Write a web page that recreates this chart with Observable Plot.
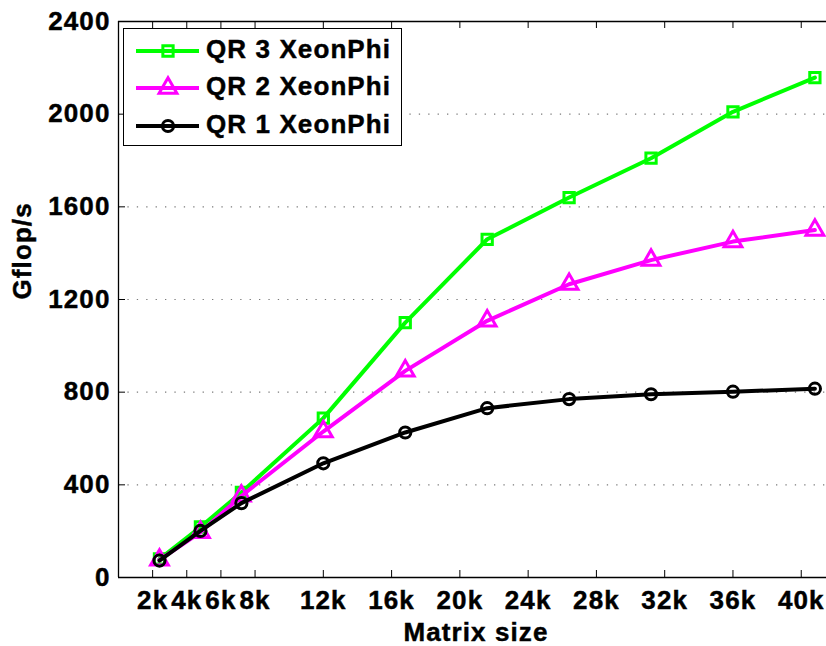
<!DOCTYPE html>
<html>
<head>
<meta charset="utf-8">
<script src="https://cdn.jsdelivr.net/npm/d3@7"></script>
<script src="https://cdn.jsdelivr.net/npm/@observablehq/plot@0.6"></script>
<style>
  body { margin: 0; background: #fff; }
  #wrap { position: relative; width: 826px; height: 646px; overflow: hidden; background: #fff; }
  #wrap svg text { stroke: #000; stroke-width: 0.45px; }
  #legend { position: absolute; left: 123px; top: 28px; width: 279px; height: 118px; border: 1.2px solid #000; background: #fff; box-sizing: border-box; }
  #legend .row { position: absolute; left: 0; width: 100%; height: 38px; }
  #legend svg { position: absolute; left: 0; top: 0; }
  #legend .lab { position: absolute; left: 82px; top: 0; line-height: 38px; font: bold 26px "Liberation Sans", Arial, Helvetica, sans-serif; letter-spacing: 1.1px; color: #000; white-space: nowrap; -webkit-text-stroke: 0.45px #000; }
</style>
</head>
<body>
<div id="wrap"></div>
<script>
// ---- data ----
const sizes = [2400, 4800, 7200, 12000, 16800, 21600, 26400, 31200, 36000, 40800];
const qr3 = [80, 218, 367, 688, 1100, 1460, 1640, 1810, 2010, 2158];
const qr2 = [76, 195, 352, 630, 892, 1108, 1266, 1370, 1450, 1500];
const qr1 = [73, 201, 321, 493, 626, 731, 770, 791, 802, 815];

const seriesNames = ["QR 3 XeonPhi", "QR 2 XeonPhi", "QR 1 XeonPhi"];
const seriesValues = [qr3, qr2, qr1];
const seriesColors = ["#00ff00", "#ff00ff", "#000000"];
const seriesSymbols = ["square", "triangle", "circle"];
const seriesR = [5.8, 6.6, 5.6];

const xTicks = [2000, 4000, 6000, 8000, 12000, 16000, 20000, 24000, 28000, 32000, 36000, 40000];
const xTickLabels = ["2k", "4k", "6k", "8k", "12k", "16k", "20k", "24k", "28k", "32k", "36k", "40k"];
const yTicks = [0, 400, 800, 1200, 1600, 2000, 2400];
const yTickLabels = ["0", "400", "800", "1200", "1600", "2000", "2400"];
const xLabel = "Matrix size";
const yLabel = "Gflop/s";

// ---- layout ----
const W = 826, H = 646;
const mL = 118, mR = 0, mT = 21, mB = 69;
const plotW = W - mL - mR, plotH = H - mT - mB;
const tickLen = 7;
const font = '"Liberation Sans", Arial, Helvetica, sans-serif';

const seriesData = seriesNames.map((name, k) =>
  sizes.map((s, i) => ({series: name, size: s, gflops: seriesValues[k][i]}))
);

const marks = [];
// dotted grid
marks.push(Plot.ruleY(yTicks.filter(v => v > 0 && v < 2400), {
  y: d => d, stroke: "#7a7a7a", strokeWidth: 1.2, strokeDasharray: "1.3,8.1"
}));
// series (green first, black last)
seriesData.forEach((data, k) => {
  marks.push(Plot.line(data, {x: "size", y: "gflops", stroke: seriesColors[k], strokeWidth: 4, strokeLinejoin: "round"}));
  marks.push(Plot.dot(data, {x: "size", y: "gflops", symbol: seriesSymbols[k], r: seriesR[k],
    stroke: seriesColors[k], strokeWidth: 3, fill: "none"}));
});
// box lines
marks.push(Plot.ruleX([0], {x: d => d, stroke: "#000", strokeWidth: 1.3}));
marks.push(Plot.ruleY([0, 2400], {y: d => d, stroke: "#000", strokeWidth: 1.3}));
// inward ticks
marks.push(Plot.tickX(xTicks, {x: d => d, insetTop: plotH - tickLen, stroke: "#000", strokeWidth: 1}));
marks.push(Plot.tickX(xTicks, {x: d => d, insetBottom: plotH - tickLen, stroke: "#000", strokeWidth: 1}));
marks.push(Plot.tickY(yTicks, {y: d => d, insetRight: plotW - tickLen, stroke: "#000", strokeWidth: 1}));
// tick labels
marks.push(Plot.axisX(xTicks, {tickSize: 0, tickPadding: 13, label: null,
  tickFormat: d => xTickLabels[xTicks.indexOf(d)], fontSize: 26, fontWeight: "bold", fill: "#000"}));
marks.push(Plot.axisY(yTicks, {tickSize: 0, tickPadding: 8, label: null,
  tickFormat: d => yTickLabels[yTicks.indexOf(d)], fontSize: 26, fontWeight: "bold", fill: "#000"}));
// axis titles
marks.push(Plot.text([xLabel], {text: d => d, frameAnchor: "bottom", lineAnchor: "top", dy: 45, dx: 3.5,
  fontSize: 26, fontWeight: "bold", fill: "#000"}));
marks.push(Plot.text([yLabel], {text: d => d, frameAnchor: "left", lineAnchor: "top", rotate: -90, dx: -106, dy: 0,
  fontSize: 26, fontWeight: "bold", fill: "#000"}));

const chart = Plot.plot({
  width: W, height: H,
  marginLeft: mL, marginRight: mR, marginTop: mT, marginBottom: mB,
  x: {domain: [0, 41480], axis: null},
  y: {domain: [0, 2400], axis: null},
  style: {fontFamily: font, fontWeight: "bold", fontSize: "26px", letterSpacing: "1.1px", background: "#fff", color: "#000", overflow: "visible"},
  marks
});
const wrap = document.getElementById("wrap");
wrap.appendChild(chart);

// ---- legend (inside plot area, like the original) ----
const legend = document.createElement("div");
legend.id = "legend";
const rowTops = [3, 40, 78];
seriesNames.forEach((name, k) => {
  const row = document.createElement("div");
  row.className = "row";
  row.style.top = rowTops[k] + "px";
  const svg = d3.create("svg").attr("width", 80).attr("height", 38);
  svg.append("line").attr("x1", 12).attr("x2", 75).attr("y1", 19).attr("y2", 19)
    .attr("stroke", seriesColors[k]).attr("stroke-width", 4);
  const sym = {square: d3.symbolSquare, triangle: d3.symbolTriangle, circle: d3.symbolCircle}[seriesSymbols[k]];
  svg.append("path").attr("transform", "translate(44,19)")
    .attr("d", d3.symbol(sym, Math.PI * seriesR[k] * seriesR[k])())
    .attr("fill", "none").attr("stroke", seriesColors[k]).attr("stroke-width", 3);
  row.appendChild(svg.node());
  const lab = document.createElement("div");
  lab.className = "lab";
  lab.textContent = name;
  lab.style.top = "2px";
  row.appendChild(lab);
  legend.appendChild(row);
});
wrap.appendChild(legend);
</script>
</body>
</html>
